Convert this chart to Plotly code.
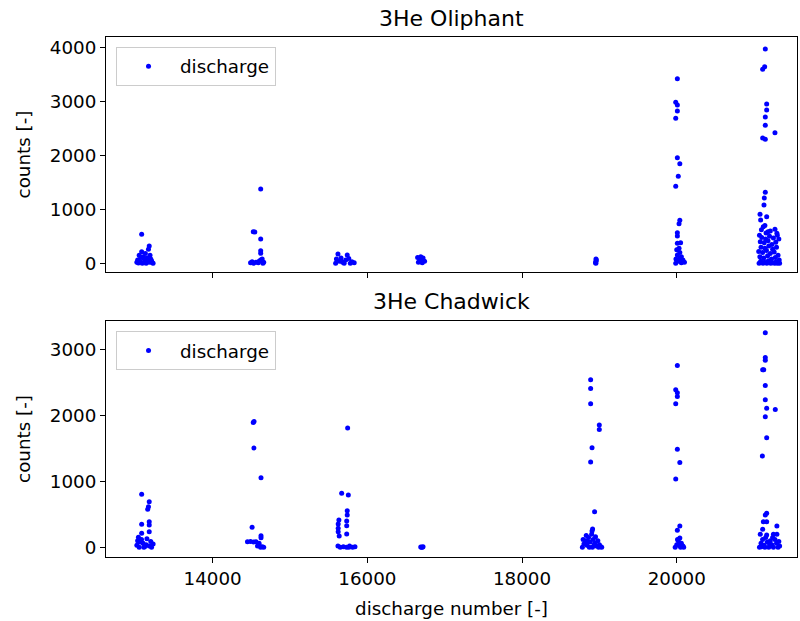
import plotly.graph_objects as go
from plotly.subplots import make_subplots

# ---- data: 3He Oliphant ----
olip_x = [
    13082, 13180, 13170, 13082, 13050, 13100, 13150, 13200, 13030, 13060, 13120, 13180,
    13220, 13040, 13090, 13140, 13210, 13160, 13110, 13070, 13230, 13020, 13130, 13190,
    14621, 14525, 14545, 14621, 14621, 14621, 14490, 14510, 14530, 14560, 14600, 14620,
    14640, 14660, 14650, 14590,
    15620, 15740, 15600, 15640, 15680, 15720, 15760, 15800, 15830, 15590, 15700, 15780, 15660,
    16650, 16680, 16700, 16720, 16740, 16660, 16710, 16690,
    18956, 18956, 18950, 18960, 18955,
    20008, 19987, 20008, 20008, 19987, 20008, 20040, 20020, 19987, 20040, 20030, 20008,
    20008, 20050, 20008, 20030, 20008, 20040, 20060, 19987, 20080, 20100, 20020, 20060,
    20040, 20000, 20060, 19990,
    21145, 21137, 21111, 21163, 21163, 21145, 21145, 21270, 21111, 21145, 21145, 21132,
    21128, 21077, 21163, 21085, 21119, 21270, 21180, 21295,
    21070, 21100, 21150, 21200, 21250, 21300, 21080, 21130, 21180, 21230, 21280, 21320,
    21090, 21140, 21190, 21240, 21290, 21060, 21110, 21160, 21210, 21260, 21310, 21075,
    21125, 21175, 21225, 21275, 21325, 21085, 21135, 21185, 21235, 21285, 21330, 21065,
    21115, 21165, 21215, 21265, 21300, 21155, 21210, 21095, 21140,
]
olip_y = [
    537, 320, 260, 215, 150, 120, 100, 80, 60, 40, 30, 20,
    10, 5, 0, 0, 50, 70, 90, 110, 0, 20, 180, 150,
    1376, 585, 580, 450, 233, 185, 10, 30, 0, 20, 40, 60,
    80, 20, 0, 10,
    172, 155, 80, 40, 20, 60, 90, 30, 10, 0, 0, 0, 100,
    110, 80, 60, 100, 40, 20, 10, 120,
    80, 40, 10, 60, 0,
    3419, 2982, 2932, 2820, 2685, 1956, 1845, 1611, 1426, 796, 733, 567,
    506, 382, 370, 278, 154, 93, 30, 0, 60, 20, 40, 120,
    200, 250, 10, 80,
    3969, 3641, 3593, 2950, 2839, 2709, 2556, 2419, 2320, 2296, 1315, 1209,
    1080, 907, 863, 802, 678, 630, 585, 556,
    520, 480, 450, 500, 470, 520, 400, 380, 420, 350, 390, 450,
    300, 280, 320, 260, 300, 220, 200, 240, 180, 210, 150, 120,
    100, 140, 80, 110, 60, 40, 20, 50, 10, 30, 0, 0,
    0, 0, 0, 0, 0, 560, 600, 620, 700,
]

# ---- data: 3He Chadwick ----
chad_x = [
    13082, 13180, 13170, 13160, 13180, 13180, 13082, 13180, 13082, 13040, 13030, 13060,
    13100, 13140, 13180, 13210, 13050, 13120, 13200, 13080, 13150, 13020, 13230, 13110,
    14525, 14535, 14534, 14625, 14510, 14450, 14490, 14530, 14560, 14625, 14625, 14600,
    14580, 14620, 14640, 14660, 14600,
    15745, 15668, 15754, 15740, 15740, 15632, 15733, 15623, 15623, 15733, 15623, 15733,
    15636, 15620, 15650, 15690, 15730, 15770, 15810, 15840, 15760,
    16700, 16720, 16690, 16710,
    18887, 18887, 18887, 18999, 18999, 18905, 18887, 18938, 18912, 18905,
    18780, 18800, 18820, 18840, 18860, 18880, 18900, 18920, 18940, 18960, 18980, 19000,
    19020, 19030, 18790, 18830, 18870, 18910, 18950, 18990, 18850, 18930,
    20008, 19987, 20008, 20008, 19987, 20008, 20040, 19987, 20040, 20008,
    19980, 20000, 20020, 20040, 20060, 20080, 20090, 20010, 20050, 20030,
    21145, 21145, 21145, 21111, 21125, 21145, 21145, 21163, 21274, 21145, 21163, 21107,
    21163, 21145, 21120, 21163, 21295, 21111, 21295, 21250, 21163,
    21070, 21090, 21110, 21130, 21150, 21170, 21190, 21210, 21230, 21250, 21270, 21290,
    21310, 21330, 21080, 21100, 21140, 21200, 21240, 21320,
]
chad_y = [
    804, 692, 616, 576, 388, 338, 349, 237, 212, 152, 100, 80,
    60, 40, 20, 0, 0, 10, 90, 120, 130, 30, 50, 0,
    1896, 1910, 1506, 1056, 303, 85, 90, 80, 85, 176, 146, 60,
    20, 0, 10, 0, 30,
    1810, 819, 793, 555, 490, 414, 399, 353, 288, 328, 237, 202,
    171, 20, 0, 10, 0, 20, 0, 10, 0,
    0, 10, 5, 0,
    2542, 2412, 2178, 1855, 1790, 1511, 1294, 540, 278, 247,
    0, 50, 100, 30, 150, 80, 200, 120, 60, 20, 100, 40,
    10, 0, 120, 180, 0, 0, 160, 0, 90, 30,
    2761, 2391, 2345, 2291, 2178, 1487, 1289, 1036, 323, 258,
    0, 40, 100, 140, 60, 20, 0, 120, 0, 30,
    3256, 2882, 2841, 2695, 2695, 2457, 2239, 2109, 2093, 1981, 1663, 1385,
    516, 490, 388, 388, 323, 273, 197, 197, 187,
    0, 60, 120, 30, 150, 80, 0, 100, 40, 0, 120, 60,
    0, 20, 200, 10, 0, 50, 150, 90,
]

titles = ["3He Oliphant", "3He Chadwick"]
series_name = "discharge"
x_label = "discharge number [-]"
y_label = "counts [-]"
top_yticks = [0, 1000, 2000, 3000, 4000]
bot_yticks = [0, 1000, 2000, 3000]
x_ticks = [14000, 16000, 18000, 20000]

FONT = "DejaVu Sans"
TICK = 18.3
fig = make_subplots(rows=2, cols=1, shared_xaxes=True)

fig.add_trace(go.Scatter(x=olip_x, y=olip_y, mode="markers", name=series_name,
                         marker=dict(color="#0000ff", size=5), legend="legend"),
              row=1, col=1)
fig.add_trace(go.Scatter(x=chad_x, y=chad_y, mode="markers", name=series_name,
                         marker=dict(color="#0000ff", size=5), legend="legend2"),
              row=2, col=1)

axis_common = dict(showline=True, linecolor="black", linewidth=1.1, mirror=True,
                   ticks="outside", ticklen=5, tickwidth=1.1, tickcolor="black",
                   showgrid=False, zeroline=False, automargin=False, tickformat="d",
                   tickfont=dict(family=FONT, size=TICK, color="black"))

fig.update_layout(
    width=800, height=621,
    margin=dict(l=106, r=3, t=37, b=64),
    paper_bgcolor="white", plot_bgcolor="white",
    font=dict(family=FONT, size=TICK, color="black"),
    showlegend=True,
    xaxis=dict(axis_common, range=[12621, 21555], tickvals=x_ticks, showticklabels=False,
               domain=[0, 1], anchor="y"),
    xaxis2=dict(axis_common, range=[12621, 21555], tickvals=x_ticks,
                domain=[0, 1], anchor="y2", matches="x",
                title=dict(text=x_label, font=dict(family=FONT, size=TICK), standoff=14)),
    yaxis=dict(axis_common, range=[-161, 4190], tickvals=top_yticks,
               domain=[0.548, 1],
               title=dict(text=y_label, font=dict(family=FONT, size=TICK), standoff=14)),
    yaxis2=dict(axis_common, range=[-147, 3435], tickvals=bot_yticks,
                domain=[0, 0.4538],
                title=dict(text=y_label, font=dict(family=FONT, size=TICK), standoff=14)),
    legend=dict(x=0.0145, y=0.981, xanchor="left", yanchor="top",
                bgcolor="rgba(255,255,255,0.8)", bordercolor="#cccccc", borderwidth=1,
                itemwidth=53, font=dict(family=FONT, size=TICK)),
    legend2=dict(x=0.0145, y=0.4345, xanchor="left", yanchor="top",
                 bgcolor="rgba(255,255,255,0.8)", bordercolor="#cccccc", borderwidth=1,
                 itemwidth=53, font=dict(family=FONT, size=TICK)),
    annotations=[
        dict(text=titles[0], x=0.5, y=1.0365, xref="paper", yref="paper",
             xanchor="center", yanchor="middle", showarrow=False,
             font=dict(family=FONT, size=22, color="black")),
        dict(text=titles[1], x=0.5, y=0.4923, xref="paper", yref="paper",
             xanchor="center", yanchor="middle", showarrow=False,
             font=dict(family=FONT, size=22, color="black")),
    ],
)

# remove the page's default 8px body margin so the figure starts at the window corner
fig.write_html("out.html", config={"displayModeBar": False},
               post_script="document.body.style.margin='0';")
